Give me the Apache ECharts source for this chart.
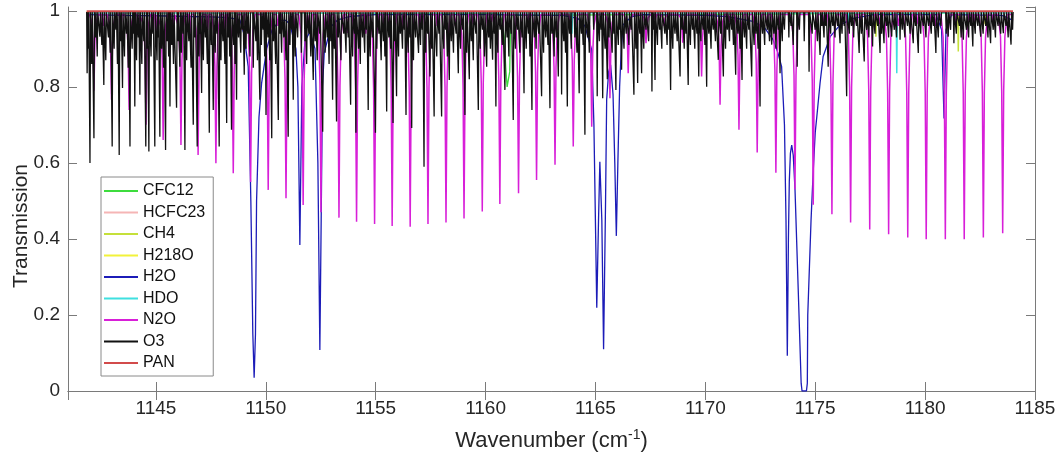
<!DOCTYPE html>
<html><head><meta charset="utf-8">
<script src="https://cdn.jsdelivr.net/npm/echarts@6/dist/echarts.min.js"></script>
<style>html,body{margin:0;padding:0;background:#fff}#c{width:1063px;height:462px}</style>
</head><body><div id="c"></div>
<script>
// ---------- data ----------
const seriesNames = ['CFC12','HCFC23','CH4','H218O','H2O','HDO','N2O','O3','PAN'];
const xStart = 1141.85, xEnd = 1184.0;   // spectral range of the data

// H2O transmission curve [wavenumber, transmission]
const h2oCurve = [
[1141.85,0.99],[1143.5,0.988],[1145.0,0.987],[1146.5,0.985],[1147.5,0.984],[1148.3,0.982],[1148.82,0.976],[1149.0,0.94],[1149.2,0.853],[1149.32,0.5],[1149.41,0.15],[1149.47,0.035],[1149.53,0.15],[1149.58,0.5],[1149.69,0.72],[1149.81,0.81],[1150.04,0.9],[1150.28,0.95],[1150.64,0.975],[1150.9,0.975],[1151.1,0.965],[1151.37,0.9],[1151.46,0.8],[1151.55,0.384],[1151.64,0.8],[1151.78,0.92],[1152.01,0.945],[1152.24,0.9],[1152.37,0.6],[1152.46,0.108],[1152.52,0.45],[1152.58,0.8],[1152.66,0.89],[1152.96,0.958],[1153.27,0.976],[1153.8,0.985],[1155,0.99],[1160,0.99],[1163.5,0.988],[1164.2,0.98],[1164.52,0.96],[1164.83,0.897],[1164.93,0.7],[1165.06,0.219],[1165.14,0.45],[1165.2,0.603],[1165.29,0.45],[1165.37,0.11],[1165.46,0.5],[1165.51,0.766],[1165.6,0.84],[1165.69,0.858],[1165.8,0.78],[1165.88,0.6],[1165.95,0.408],[1166.02,0.6],[1166.1,0.8],[1166.16,0.88],[1166.25,0.963],[1166.65,0.985],[1167.2,0.99],[1170,0.988],[1170.97,0.985],[1172.17,0.972],[1172.7,0.955],[1173.08,0.924],[1173.3,0.89],[1173.47,0.853],[1173.6,0.7],[1173.67,0.45],[1173.73,0.093],[1173.78,0.4],[1173.82,0.55],[1173.87,0.625],[1173.93,0.647],[1174.0,0.62],[1174.08,0.53],[1174.23,0.26],[1174.36,0.02],[1174.4,0.0],[1174.6,0.0],[1174.64,0.02],[1174.66,0.2],[1174.81,0.45],[1174.91,0.58],[1175.0,0.68],[1175.07,0.72],[1175.22,0.81],[1175.36,0.88],[1175.68,0.932],[1176.13,0.963],[1176.74,0.98],[1177.65,0.99],[1180.5,0.99],[1180.75,0.95],[1180.86,0.717],[1180.95,0.95],[1181.2,0.99],[1183.5,0.988],[1184.0,0.975]
];

// CFC12 curve (Q-branch near 1161)
const cfc12Curve = [
[1141.85,0.995],[1160.6,0.993],[1160.75,0.975],[1160.85,0.93],[1160.92,0.85],[1160.98,0.80],[1161.06,0.797],[1161.1,0.84],[1161.13,0.95],[1161.2,0.988],[1184.0,0.995]
];
const hcfc23Curve = [[1141.85,0.997],[1184.0,0.997]];
const panCurve = [[1141.85,0.999],[1184.0,0.999]];

// line lists: [centre wavenumber, transmission at line centre]
const ch4Lines = [[1166.95,0.98],[1177.76,0.932],[1181.51,0.893],[1182.2,0.975]];
const h218oLines = [[1161.02,0.985],[1168.05,0.98],[1182.73,0.965]];
const hdoLines = [[1163.93,0.94],[1176.52,0.95],[1178.71,0.836]];

const n2oMain = [
[1142.18,0.79],[1142.98,0.766],[1143.78,0.739],[1144.55,0.70],[1145.33,0.66],[1146.14,0.647],[1146.92,0.621],[1147.73,0.599],[1148.52,0.573],[1149.31,0.55],[1150.11,0.529],[1150.92,0.507],[1151.70,0.489],[1152.51,0.47],[1153.33,0.456],[1154.13,0.445],[1154.95,0.439],[1155.75,0.434],[1156.57,0.432],[1157.38,0.439],[1158.20,0.443],[1159.02,0.454],[1159.85,0.472],[1160.65,0.492],[1161.50,0.52],[1162.32,0.555],[1163.16,0.595],[1163.99,0.643],[1164.83,0.695],[1165.66,0.77],[1166.49,0.836],[1167.30,0.915],[1168.12,0.96],[1168.97,0.916],[1169.83,0.827],[1170.67,0.753],[1171.53,0.687],[1172.36,0.627],[1173.21,0.574],[1174.08,0.53],[1174.91,0.49],[1175.76,0.465],[1176.61,0.443],[1177.48,0.425],[1178.34,0.412],[1179.21,0.404],[1180.05,0.399],[1180.92,0.399],[1181.78,0.399],[1182.65,0.404],[1183.53,0.415]
];
const n2oWeak = [
[1142.6,0.96],[1143.4,0.95],[1144.2,0.95],[1145.0,0.94],[1145.8,0.95],[1146.55,0.94],[1147.35,0.95],[1148.15,0.94],[1148.95,0.95],[1150.55,0.96],[1151.3,0.95],[1152.05,0.946],[1152.9,0.95],[1153.72,0.942],[1154.55,0.94],[1155.38,0.945],[1156.18,0.95],[1157.0,0.955],[1157.8,0.96],[1158.62,0.96],[1159.44,0.965],[1160.27,0.97],[1161.92,0.97],[1167.72,0.975],[1171.1,0.97],[1171.95,0.965],[1172.8,0.96],[1175.35,0.96],[1176.2,0.96],[1177.05,0.96],[1177.92,0.965],[1178.78,0.96],[1179.63,0.965],[1180.48,0.96],[1181.35,0.965],[1182.22,0.96],[1183.1,0.965]
];

const o3Strong = [
[1141.87,0.836],[1142.00,0.60],[1142.18,0.665],[1142.45,0.932],[1142.63,0.805],[1143.01,0.643],[1143.33,0.621],[1143.48,0.797],[1143.82,0.643],[1144.04,0.748],[1144.27,0.779],[1144.54,0.643],[1144.68,0.63],[1144.95,0.643],[1145.18,0.669],[1145.44,0.634],[1145.64,0.748],[1145.94,0.745],[1146.09,0.853],[1146.32,0.634],[1146.70,0.70],[1146.88,0.643],[1147.08,0.784],[1147.43,0.679],[1147.61,0.739],[1147.88,0.643],[1148.22,0.705],[1148.44,0.687],[1148.67,0.766],[1149.02,0.832],[1149.43,0.85],[1149.73,0.766],[1150.01,0.726],[1150.27,0.665],[1150.57,0.713],[1151.02,0.669],[1151.25,0.766],[1152.16,0.818],
[1152.59,0.682],[1153.04,0.766],[1153.22,0.709],[1153.86,0.753],[1154.10,0.679],[1154.66,0.739],[1154.99,0.679],[1155.50,0.735],[1155.79,0.705],[1155.95,0.775],[1156.38,0.726],[1156.64,0.692],[1156.95,0.889],[1157.20,0.59],[1157.47,0.827],[1157.66,0.722],[1158.00,0.722],[1158.35,0.818],[1158.76,0.836],[1159.06,0.726],[1159.26,0.82],[1159.67,0.739],[1160.05,0.853],[1160.32,0.871],[1160.47,0.748],[1160.88,0.792],[1161.26,0.713],[1161.75,0.783],[1162.11,0.739],[1162.55,0.775],[1162.93,0.744],[1163.31,0.827],[1163.46,0.78],[1163.72,0.748],
[1164.26,0.783],[1164.52,0.674],[1165.08,0.775],[1165.33,0.770],[1165.54,0.82],[1165.93,0.792],[1166.19,0.845],[1166.75,0.779],[1166.92,0.81],[1167.10,0.836],[1167.57,0.788],[1167.71,0.818],[1168.42,0.792],[1168.85,0.827],[1169.22,0.805],[1169.70,0.827],[1170.06,0.80],[1170.59,0.871],[1170.82,0.827],[1171.38,0.832],[1171.67,0.818],[1172.11,0.827],[1172.49,0.748],[1173.02,0.911],[1173.40,0.836],[1174.18,0.853],[1174.72,0.84],
[1175.22,0.884],[1175.59,0.853],[1176.13,0.915],[1176.43,0.775],[1177.00,0.889],[1177.23,0.867],[1177.61,0.906],[1177.95,0.889],[1178.13,0.915],[1178.48,0.932],[1178.86,0.924],[1179.46,0.915],[1179.69,0.889],[1180.49,0.889],[1181.05,0.932],[1181.31,0.915],[1181.74,0.924],[1182.17,0.906],[1182.53,0.932],[1182.98,0.915],[1183.56,0.941],[1183.91,0.911]
];
const o3Weak = [
[1141.92,0.90],[1142.08,0.86],[1142.25,0.93],[1142.33,0.88],[1142.54,0.91],[1142.72,0.87],[1142.84,0.93],[1142.92,0.89],[1143.10,0.90],[1143.18,0.95],[1143.25,0.86],[1143.40,0.92],[1143.57,0.88],[1143.66,0.94],[1143.74,0.85],[1143.92,0.90],[1143.98,0.94],[1144.12,0.87],[1144.20,0.93],[1144.36,0.86],[1144.45,0.92],[1144.60,0.90],[1144.78,0.88],[1144.86,0.94],[1145.05,0.87],[1145.10,0.93],[1145.26,0.90],[1145.35,0.85],[1145.52,0.92],[1145.58,0.88],[1145.72,0.91],[1145.80,0.86],[1146.00,0.92],[1146.16,0.89],[1146.24,0.94],[1146.40,0.87],[1146.50,0.92],[1146.60,0.85],[1146.78,0.93],[1146.96,0.88],[1147.00,0.94],[1147.16,0.87],[1147.25,0.93],[1147.34,0.86],[1147.52,0.91],[1147.70,0.89],[1147.78,0.94],[1147.96,0.87],[1148.05,0.92],[1148.14,0.86],[1148.30,0.93],[1148.36,0.88],[1148.54,0.91],[1148.60,0.86],[1148.76,0.93],[1148.86,0.89],[1148.94,0.95],[1149.10,0.90],[1149.18,0.94],[1149.28,0.88],[1149.55,0.92],[1149.62,0.87],[1149.80,0.91],[1149.88,0.95],[1149.95,0.88],[1150.10,0.93],[1150.18,0.87],[1150.35,0.92],[1150.45,0.86],[1150.64,0.94],[1150.72,0.89],[1150.82,0.93],[1150.92,0.87],[1151.10,0.91],[1151.18,0.95],[1151.34,0.88],[1151.45,0.93],[1151.62,0.89],[1151.78,0.92],[1151.86,0.86],[1151.96,0.94],[1152.05,0.88],[1152.25,0.92],[1152.34,0.87],[1152.45,0.94],[1152.70,0.89],[1152.80,0.93],[1152.88,0.86],[1152.96,0.92],
[1153.12,0.90],[1153.30,0.93],[1153.42,0.87],[1153.55,0.94],[1153.65,0.89],[1153.75,0.93],[1153.95,0.88],[1154.04,0.94],[1154.22,0.90],[1154.30,0.86],[1154.40,0.93],[1154.50,0.89],[1154.58,0.95],[1154.75,0.88],[1154.85,0.93],[1155.05,0.90],[1155.15,0.94],[1155.25,0.87],[1155.35,0.92],[1155.42,0.88],[1155.60,0.93],[1155.68,0.90],[1155.86,0.92],[1156.04,0.88],[1156.12,0.94],[1156.22,0.90],[1156.30,0.95],[1156.48,0.89],[1156.56,0.93],[1156.72,0.87],[1156.82,0.93],[1157.04,0.91],[1157.12,0.95],[1157.28,0.89],[1157.36,0.94],[1157.55,0.90],[1157.78,0.88],[1157.88,0.94],[1158.10,0.90],[1158.18,0.95],[1158.26,0.88],[1158.44,0.92],[1158.54,0.89],[1158.66,0.94],[1158.86,0.90],[1158.96,0.95],[1159.14,0.89],[1159.35,0.92],[1159.44,0.87],[1159.56,0.94],[1159.76,0.90],[1159.86,0.95],[1159.95,0.88],[1160.14,0.93],[1160.22,0.90],[1160.40,0.94],[1160.56,0.89],[1160.66,0.95],[1160.76,0.91],[1160.98,0.93],[1161.06,0.88],[1161.16,0.94],[1161.36,0.90],[1161.45,0.95],[1161.56,0.89],[1161.66,0.93],[1161.85,0.90],[1161.95,0.94],[1162.02,0.88],[1162.22,0.93],[1162.30,0.90],[1162.42,0.94],[1162.64,0.89],[1162.74,0.93],[1162.84,0.91],[1163.02,0.94],[1163.12,0.88],[1163.22,0.93],[1163.56,0.92],[1163.64,0.89],[1163.82,0.94],[1163.90,0.90],[1164.06,0.93],[1164.16,0.89],[1164.36,0.94],[1164.44,0.91],[1164.64,0.93],[1164.72,0.89],[1164.92,0.95],
[1165.18,0.92],[1165.26,0.95],[1165.44,0.90],[1165.62,0.93],[1165.76,0.89],[1165.84,0.94],[1166.04,0.91],[1166.10,0.95],[1166.30,0.90],[1166.40,0.94],[1166.52,0.91],[1166.62,0.95],[1166.84,0.90],[1167.02,0.94],[1167.20,0.90],[1167.30,0.95],[1167.42,0.92],[1167.64,0.95],[1167.82,0.91],[1167.92,0.95],[1168.02,0.90],[1168.16,0.94],[1168.26,0.91],[1168.34,0.95],[1168.52,0.90],[1168.62,0.94],[1168.72,0.92],[1168.94,0.95],[1169.04,0.90],[1169.12,0.94],[1169.32,0.91],[1169.42,0.95],[1169.52,0.90],[1169.62,0.94],[1169.80,0.92],[1169.90,0.95],[1169.98,0.91],[1170.16,0.94],[1170.26,0.90],[1170.36,0.95],[1170.46,0.92],[1170.70,0.94],[1170.92,0.90],[1171.00,0.95],[1171.10,0.92],[1171.20,0.95],[1171.28,0.91],[1171.48,0.94],[1171.58,0.90],[1171.78,0.93],[1171.88,0.90],[1171.98,0.95],[1172.22,0.91],[1172.30,0.94],[1172.40,0.90],[1172.60,0.94],[1172.70,0.91],[1172.82,0.95],[1172.92,0.92],[1173.12,0.94],[1173.22,0.90],[1173.32,0.95],[1173.50,0.92],[1173.60,0.95],[1173.80,0.93],[1173.90,0.96],[1174.00,0.91],[1174.28,0.95],[1174.50,0.92],[1174.86,0.94],
[1175.00,0.95],[1175.10,0.92],[1175.30,0.96],[1175.40,0.93],[1175.48,0.96],[1175.70,0.94],[1175.80,0.96],[1175.90,0.93],[1176.02,0.96],[1176.22,0.94],[1176.32,0.96],[1176.55,0.94],[1176.65,0.96],[1176.75,0.93],[1176.88,0.96],[1177.10,0.94],[1177.34,0.95],[1177.44,0.93],[1177.52,0.96],[1177.72,0.94],[1177.84,0.96],[1178.02,0.94],[1178.24,0.96],[1178.34,0.93],[1178.60,0.95],[1178.70,0.93],[1178.96,0.95],[1179.08,0.93],[1179.20,0.96],[1179.32,0.94],[1179.56,0.96],[1179.80,0.94],[1179.92,0.96],[1180.04,0.93],[1180.16,0.96],[1180.28,0.94],[1180.38,0.96],[1180.60,0.93],[1180.72,0.96],[1180.96,0.94],[1181.16,0.95],[1181.42,0.94],[1181.56,0.96],[1181.64,0.93],[1181.88,0.95],[1181.98,0.93],[1182.08,0.96],[1182.28,0.94],[1182.40,0.96],[1182.64,0.94],[1182.76,0.96],[1182.86,0.93],[1183.10,0.95],[1183.20,0.93],[1183.32,0.96],[1183.44,0.94],[1183.68,0.96],[1183.78,0.93],[1183.98,0.95]
];

// baselines of the line-list species (continuum level)
const baseCH4 = 0.996, baseH218O = 0.996, baseHDO = 0.995, baseN2O = 0.99, baseO3 = 0.997;

// ---------- build polylines from line lists ----------
function narrowDips(lines, base) {
  const s = lines.slice().sort((a, b) => a[0] - b[0]);
  const out = [[xStart, base]];
  s.forEach(([c, d]) => { out.push([c - 0.025, base], [c, d], [c + 0.025, base]); });
  out.push([xEnd, base]);
  return out;
}
function broadDips(main, weak, base) {
  const all = main.map(l => [l[0], l[1], 1]).concat(weak.map(l => [l[0], l[1], 0]));
  all.sort((a, b) => a[0] - b[0]);
  const out = [[xStart, base]];
  all.forEach(([c, d, m]) => {
    if (m) {
      const k = base - d;
      out.push([c - 0.2, base], [c - 0.1, base - 0.1 * k], [c - 0.045, base - 0.35 * k], [c, d],
               [c + 0.045, base - 0.35 * k], [c + 0.1, base - 0.1 * k], [c + 0.2, base]);
    } else {
      out.push([c - 0.06, base], [c, d], [c + 0.06, base]);
    }
  });
  out.push([xEnd, base]);
  return out;
}

const colors = {
  CFC12: '#3ddc3d', HCFC23: '#f5b5b5', CH4: '#c5e03a', H218O: '#f2f23a',
  H2O: '#1c1cb8', HDO: '#3fe0e0', N2O: '#d81fd8', O3: '#111111', PAN: '#d24b4b'
};
const seriesData = {
  CFC12: cfc12Curve, HCFC23: hcfc23Curve,
  CH4: narrowDips(ch4Lines, baseCH4), H218O: narrowDips(h218oLines, baseH218O),
  H2O: h2oCurve, HDO: narrowDips(hdoLines, baseHDO),
  N2O: broadDips(n2oMain, n2oWeak, baseN2O),
  O3: narrowDips(o3Strong.concat(o3Weak), baseO3),
  PAN: panCurve
};
const widths = {CFC12:1.3, HCFC23:1.3, CH4:1.5, H218O:1.5, H2O:1.3, HDO:1.5, N2O:1.5, O3:1.3, PAN:2};

const FONT = "'Liberation Sans', Arial, sans-serif";
const axisGray = '#7a7a7a';
const chart = echarts.init(document.getElementById('c'), null, {renderer: 'canvas'});
chart.setOption({
  animation: false,
  backgroundColor: '#fff',
  grid: {left: 68, right: 28, top: 7, bottom: 71, containLabel: false, outerBoundsMode: 'none'},
  xAxis: [{
    type: 'value', position: 'bottom', min: 1141, max: 1185, minInterval: 5, maxInterval: 5,
    axisLine: {show: true, lineStyle: {color: axisGray, width: 1}},
    axisTick: {show: true, inside: true, length: 9, lineStyle: {color: axisGray}},
    axisLabel: {showMinLabel: false, color: '#262626', fontSize: 19, fontFamily: FONT, margin: 8,
      formatter: v => String(v)},
    splitLine: {show: false},
    name: 'Wavenumber (cm{sup|-1})', nameLocation: 'middle', nameGap: 37, nameMoveOverlap: false,
    nameTextStyle: {color: '#262626', fontSize: 22, fontFamily: FONT,
      rich: {sup: {fontSize: 14, fontFamily: FONT, color: '#262626', verticalAlign: 'top', padding: [0, 0, 11, 0]}}}
  }, {
    type: 'value', position: 'top', min: 1141, max: 1185, minInterval: 5, maxInterval: 5,
    axisLine: {show: true, lineStyle: {color: axisGray, width: 1}},
    axisTick: {show: true, inside: true, length: 9, lineStyle: {color: axisGray}},
    axisLabel: {show: false}, splitLine: {show: false}
  }],
  yAxis: [{
    type: 'value', position: 'left', min: 0, max: 1.01, interval: 0.2,
    axisLine: {show: true, lineStyle: {color: axisGray, width: 1}},
    axisTick: {show: true, inside: true, length: 9, lineStyle: {color: axisGray}},
    axisLabel: {showMaxLabel: false, color: '#262626', fontSize: 19, fontFamily: FONT, margin: 8,
      formatter: v => String(Math.round(v * 10) / 10)},
    splitLine: {show: false},
    name: 'Transmission', nameLocation: 'middle', nameGap: 36, nameRotate: 90, nameMoveOverlap: false,
    nameTextStyle: {color: '#262626', fontSize: 21, fontFamily: FONT, padding: [0, 54, 0, 0]}
  }, {
    type: 'value', position: 'right', min: 0, max: 1.01, interval: 0.2,
    axisLine: {show: true, lineStyle: {color: axisGray, width: 1}},
    axisTick: {show: true, inside: true, length: 9, lineStyle: {color: axisGray}},
    axisLabel: {show: false}, splitLine: {show: false}
  }],
  legend: {
    orient: 'vertical', left: 101, top: 177,
    padding: [6, 8, 5, 3], icon: 'rect', itemWidth: 34, itemHeight: 2, itemGap: 5.5,
    backgroundColor: '#fff', borderColor: '#8a8a8a', borderWidth: 1,
    textStyle: {color: '#111', fontSize: 16, fontFamily: FONT},
    data: seriesNames
  },
  series: seriesNames.map(n => ({
    name: n, type: 'line', xAxisIndex: 0, yAxisIndex: 0,
    data: seriesData[n], symbol: 'none', showSymbol: false, smooth: false,
    lineStyle: {color: colors[n], width: widths[n]}, itemStyle: {color: colors[n]},
    emphasis: {disabled: true}, silent: true, clip: true
  }))
});
</script></body></html>
